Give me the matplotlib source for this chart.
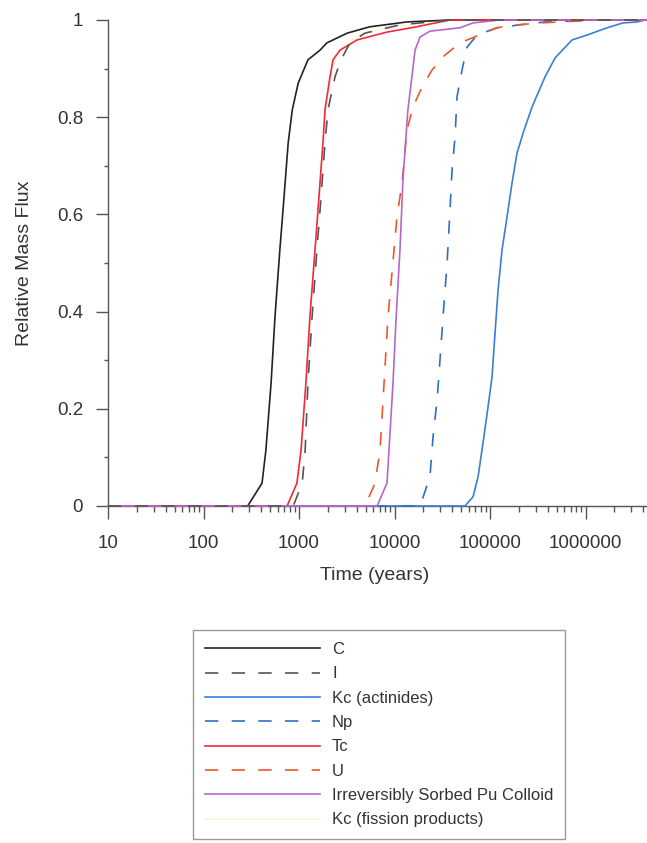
import matplotlib
matplotlib.use("Agg")
import matplotlib.pyplot as plt
from matplotlib.ticker import FixedLocator, LogLocator, NullFormatter

plt.rcParams['font.family'] = ['Liberation Sans', 'DejaVu Sans']

# breakthrough curves: time (years) vs relative mass flux
c_t = [10, 290, 410, 450, 510, 560, 630, 680, 770, 850, 980, 1240, 1660, 1960, 3200, 5500, 13500, 38000, 1e7]
c_f = [0, 0, 0.047, 0.115, 0.253, 0.389, 0.527, 0.609, 0.747, 0.815, 0.870, 0.918, 0.938, 0.953, 0.973, 0.986, 0.996, 1, 1]

i_t = [10, 870, 1080, 1160, 1240, 1370, 1540, 1660, 1870, 2010, 2380, 2750, 3420, 4900, 11400, 38000, 1e7]
i_f = [0, 0, 0.047, 0.115, 0.253, 0.389, 0.527, 0.609, 0.747, 0.815, 0.883, 0.918, 0.953, 0.973, 0.990, 1, 1]

kca_t = [10, 54700, 66400, 74900, 84500, 95300, 104900, 112800, 121300, 133600, 150700, 170000, 191700,
         221600, 275400, 318300, 376700, 479700, 722600, 1037000, 1680000, 2471000, 3461000, 4200000, 1e7]
kca_f = [0, 0, 0.019, 0.060, 0.130, 0.204, 0.265, 0.356, 0.444, 0.527, 0.595, 0.665, 0.726,
         0.767, 0.821, 0.850, 0.883, 0.922, 0.959, 0.969, 0.984, 0.994, 0.996, 1, 1]

np_t = [10, 18500, 23500, 25300, 27900, 29900, 32200, 35500, 38100, 40000, 43000, 45100, 50900, 57400,
        73100, 118000, 206000, 377000, 1420000, 1e7]
np_f = [0, 0, 0.060, 0.142, 0.218, 0.300, 0.389, 0.500, 0.609, 0.691, 0.759, 0.842, 0.897, 0.944,
        0.969, 0.984, 0.990, 0.996, 1, 1]

tc_t = [10, 750, 950, 1050, 1180, 1300, 1470, 1580, 1780, 1870, 2110, 2270, 2690, 4050, 8300, 17000, 38000, 1e7]
tc_f = [0, 0, 0.047, 0.115, 0.253, 0.389, 0.527, 0.609, 0.747, 0.815, 0.883, 0.918, 0.938, 0.959, 0.975, 0.986, 1, 1]

u_t = [10, 4900, 6250, 7050, 7770, 8550, 9880, 10600, 12000, 13500, 15600, 19400, 24700, 33800, 48500,
       73000, 118000, 192000, 334000, 1420000, 1e7]
u_f = [0, 0, 0.047, 0.115, 0.253, 0.389, 0.527, 0.595, 0.665, 0.774, 0.821, 0.862, 0.897, 0.928, 0.953,
       0.967, 0.984, 0.990, 0.994, 1, 1]

pu_t = [10, 6560, 8340, 8750, 9640, 10400, 11400, 12300, 13800, 15200, 16400, 18500, 23500, 48500, 66400, 127000, 1e7]
pu_f = [0, 0, 0.047, 0.115, 0.253, 0.389, 0.527, 0.677, 0.815, 0.883, 0.938, 0.965, 0.977, 0.984, 0.994, 1, 1]

kcf_t = [10, 760, 960, 1060, 1190, 1310, 1480, 1600, 1800, 1900, 2150, 2400, 3000, 4500, 9000, 20000, 38000, 1e7]
kcf_f = [0, 0, 0.047, 0.115, 0.253, 0.389, 0.527, 0.609, 0.747, 0.815, 0.883, 0.925, 0.950, 0.970, 0.985, 0.993, 1, 1]

fig = plt.figure(figsize=(6.47, 8.43), dpi=100)
ax = fig.add_axes([108 / 647, 337 / 843, 539 / 647, 486 / 843])

dash = (0, (8, 8))
kw = dict(lw=1.2, clip_on=False)
h_kcf, = ax.plot(kcf_t, kcf_f, color='#fcf6d6', zorder=1, label='Kc (fission products)', **kw)
h_c, = ax.plot(c_t, c_f, color='#222222', zorder=3, label='C', **kw)
h_i, = ax.plot(i_t, i_f, color='#555555', ls=dash, zorder=4, label='I', **kw)
h_kca, = ax.plot(kca_t, kca_f, color='#3b7fd2', zorder=3, label='Kc (actinides)', **kw)
h_np, = ax.plot(np_t, np_f, color='#2d6fc4', ls=dash, zorder=3, label='Np', **kw)
h_tc, = ax.plot(tc_t, tc_f, color='#ef2b3c', zorder=3, label='Tc', **kw)
h_u, = ax.plot(u_t, u_f, color='#f0562a', ls=dash, zorder=3, label='U', **kw)
h_pu, = ax.plot(pu_t, pu_f, color='#b468cc', zorder=3, label='Irreversibly Sorbed Pu Colloid', **kw)

ax.set_xscale('log')
ax.set_xlim(10, 4.4e6)
ax.set_ylim(0, 1)

for s in ['top', 'right']:
    ax.spines[s].set_visible(False)
for s in ['left', 'bottom']:
    ax.spines[s].set_color('#555555')
    ax.spines[s].set_linewidth(1.0)

ax.yaxis.set_major_locator(FixedLocator([0, 0.2, 0.4, 0.6, 0.8, 1.0]))
ax.yaxis.set_minor_locator(FixedLocator([0.1, 0.3, 0.5, 0.7, 0.9]))
ax.set_yticklabels(['0', '0.2', '0.4', '0.6', '0.8', '1'])

ax.xaxis.set_major_locator(FixedLocator([10, 100, 1000, 10000, 100000, 1000000]))
ax.set_xticklabels(['10', '100', '1000', '10000', '100000', '1000000'])
ax.xaxis.set_minor_locator(LogLocator(base=10, subs=range(2, 10), numticks=20))
ax.xaxis.set_minor_formatter(NullFormatter())

ax.tick_params(axis='y', which='major', length=9, width=1, color='#555555', pad=9,
               labelsize=13.5, labelcolor='#333333')
ax.tick_params(axis='y', which='minor', length=3, width=1, color='#555555')
ax.tick_params(axis='x', which='major', length=9, width=1, color='#555555', pad=12,
               labelsize=13.5, labelcolor='#333333')
ax.tick_params(axis='x', which='minor', length=4.5, width=1, color='#555555')

ax.set_ylabel('Relative Mass Flux', fontsize=14, color='#333333', va='center')
ax.set_xlabel('Time (years)', fontsize=14, color='#333333', va='center')
ax.yaxis.set_label_coords(-0.155, 0.5)
ax.xaxis.set_label_coords(0.495, -0.142)

handles = [h_c, h_i, h_kca, h_np, h_tc, h_u, h_pu, h_kcf]
leg = fig.legend(handles=handles, loc='upper left', bbox_to_anchor=(193 / 647, 1 - 630 / 843),
                 borderaxespad=0, fontsize=12, handlelength=6.9, handletextpad=0.72,
                 labelspacing=0.56, borderpad=0.72, fancybox=False, framealpha=1,
                 edgecolor='#999999')
leg.get_frame().set_linewidth(1.0)
for t in leg.get_texts():
    t.set_color('#333333')

fig.savefig('out.png', dpi=100)
